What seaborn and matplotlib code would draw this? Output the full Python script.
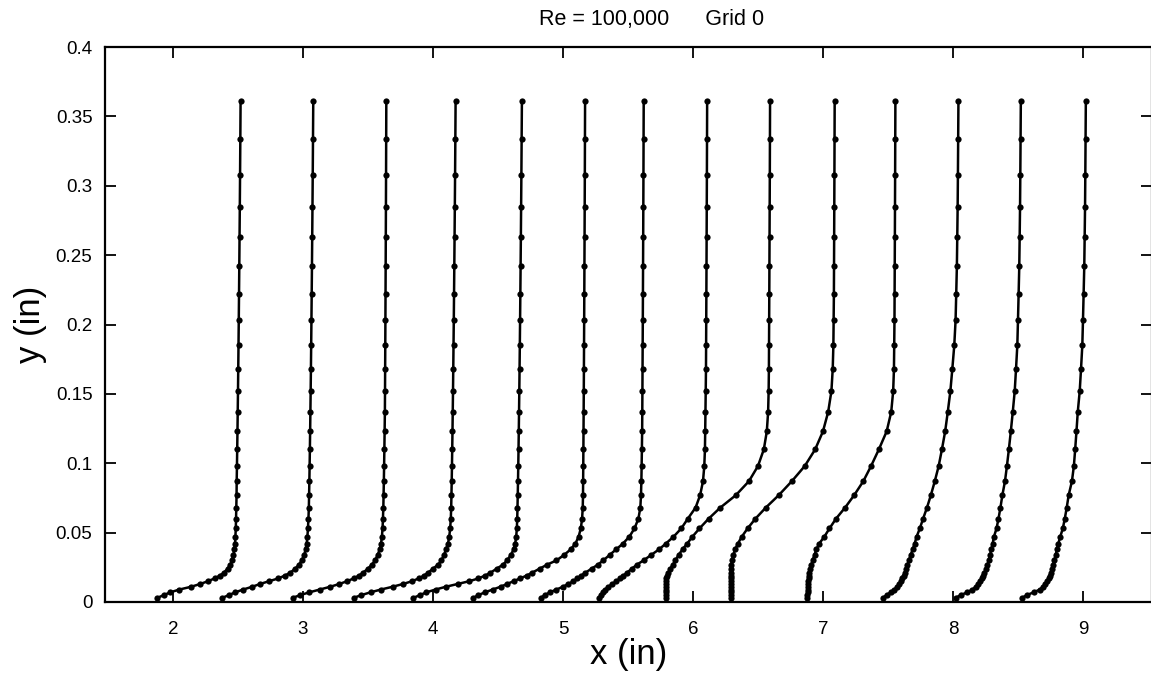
import pandas as pd
import matplotlib
matplotlib.use('Agg')
import matplotlib.pyplot as plt
import seaborn as sns
from matplotlib.ticker import FuncFormatter

# Shared wall-normal grid levels (in)
y_levels = [0.003, 0.005, 0.007, 0.009, 0.011, 0.013, 0.015, 0.017, 0.019, 0.021,
            0.024, 0.027, 0.030, 0.034, 0.038, 0.042, 0.047, 0.053, 0.060, 0.068,
            0.077, 0.087, 0.098, 0.110, 0.123, 0.137, 0.152, 0.168, 0.185, 0.203,
            0.222, 0.242, 0.263, 0.285, 0.308, 0.334, 0.361]

# x position of each profile point at the levels above
p1 = [1.88, 1.93, 1.98, 2.05, 2.14, 2.21, 2.27, 2.32, 2.36, 2.39,
      2.42, 2.44, 2.455, 2.465, 2.472, 2.477, 2.48, 2.483, 2.485, 2.487,
      2.489, 2.490, 2.492, 2.494, 2.496, 2.498, 2.500, 2.502, 2.504, 2.506,
      2.508, 2.510, 2.512, 2.514, 2.516, 2.518, 2.520]
p2 = [2.38, 2.43, 2.48, 2.54, 2.61, 2.67, 2.74, 2.81, 2.86, 2.90,
      2.94, 2.97, 2.99, 3.01, 3.02, 3.028, 3.034, 3.038, 3.042, 3.045,
      3.047, 3.049, 3.051, 3.053, 3.055, 3.057, 3.059, 3.061, 3.063, 3.065,
      3.067, 3.069, 3.071, 3.073, 3.075, 3.077, 3.079]
p3 = [2.92, 2.98, 3.05, 3.13, 3.21, 3.28, 3.34, 3.39, 3.43, 3.46,
      3.50, 3.53, 3.555, 3.575, 3.59, 3.60, 3.607, 3.612, 3.615, 3.618,
      3.620, 3.622, 3.624, 3.626, 3.628, 3.630, 3.631, 3.632, 3.633, 3.634,
      3.635, 3.636, 3.637, 3.638, 3.639, 3.640, 3.641]
p4 = [3.39, 3.45, 3.52, 3.60, 3.69, 3.77, 3.84, 3.89, 3.93, 3.96,
      4.00, 4.04, 4.065, 4.085, 4.10, 4.115, 4.125, 4.132, 4.137, 4.140,
      4.142, 4.144, 4.146, 4.148, 4.150, 4.152, 4.154, 4.156, 4.158, 4.160,
      4.162, 4.164, 4.166, 4.168, 4.170, 4.172, 4.174]
p5 = [3.85, 3.90, 3.95, 4.02, 4.10, 4.19, 4.28, 4.35, 4.40, 4.44,
      4.49, 4.54, 4.57, 4.60, 4.62, 4.632, 4.64, 4.645, 4.648, 4.650,
      4.652, 4.654, 4.656, 4.658, 4.660, 4.662, 4.664, 4.666, 4.668, 4.670,
      4.672, 4.674, 4.676, 4.678, 4.680, 4.682, 4.684]
p6 = [4.31, 4.35, 4.40, 4.46, 4.52, 4.57, 4.62, 4.67, 4.72, 4.76,
      4.82, 4.88, 4.95, 5.01, 5.06, 5.095, 5.12, 5.137, 5.147, 5.152,
      5.154, 5.155, 5.156, 5.157, 5.158, 5.159, 5.160, 5.161, 5.162, 5.163,
      5.164, 5.165, 5.166, 5.167, 5.168, 5.169, 5.170]
p7 = [4.83, 4.86, 4.90, 4.95, 5.00, 5.04, 5.08, 5.11, 5.14, 5.17,
      5.22, 5.27, 5.31, 5.36, 5.41, 5.46, 5.51, 5.55, 5.58, 5.595,
      5.600, 5.603, 5.605, 5.607, 5.609, 5.610, 5.611, 5.612, 5.613, 5.614,
      5.615, 5.616, 5.617, 5.618, 5.619, 5.620, 5.621]
p8 = [5.28, 5.29, 5.305, 5.325, 5.35, 5.38, 5.41, 5.44, 5.465, 5.49,
      5.53, 5.57, 5.62, 5.68, 5.74, 5.79, 5.85, 5.91, 5.96, 6.02,
      6.055, 6.077, 6.087, 6.092, 6.094, 6.096, 6.098, 6.100, 6.101, 6.102,
      6.103, 6.104, 6.105, 6.106, 6.107, 6.108, 6.109]
p9 = [5.79, 5.79, 5.79, 5.79, 5.79, 5.79, 5.792, 5.795, 5.80, 5.81,
      5.825, 5.845, 5.865, 5.89, 5.92, 5.955, 5.995, 6.05, 6.12, 6.21,
      6.33, 6.43, 6.50, 6.545, 6.568, 6.578, 6.582, 6.584, 6.585, 6.586,
      6.587, 6.588, 6.589, 6.590, 6.591, 6.592, 6.593]
p10 = [6.29, 6.29, 6.29, 6.29, 6.29, 6.29, 6.29, 6.29, 6.29, 6.29,
       6.292, 6.295, 6.30, 6.31, 6.325, 6.345, 6.375, 6.42, 6.48, 6.56,
       6.66, 6.76, 6.86, 6.94, 7.00, 7.04, 7.065, 7.075, 7.08, 7.082,
       7.084, 7.085, 7.086, 7.087, 7.088, 7.089, 7.090]
p11 = [6.88, 6.88, 6.881, 6.882, 6.883, 6.885, 6.887, 6.889, 6.892, 6.895,
       6.90, 6.91, 6.92, 6.935, 6.95, 6.97, 7.01, 7.05, 7.10, 7.17,
       7.24, 7.31, 7.37, 7.43, 7.49, 7.525, 7.54, 7.546, 7.548, 7.550,
       7.551, 7.552, 7.553, 7.554, 7.555, 7.556, 7.557]
p12 = [7.46, 7.49, 7.52, 7.55, 7.57, 7.585, 7.60, 7.61, 7.62, 7.63,
       7.64, 7.65, 7.66, 7.675, 7.69, 7.705, 7.72, 7.745, 7.77, 7.80,
       7.83, 7.86, 7.89, 7.915, 7.94, 7.96, 7.98, 7.995, 8.01, 8.02,
       8.025, 8.03, 8.033, 8.036, 8.038, 8.04, 8.042]
p13 = [8.02, 8.06, 8.11, 8.15, 8.175, 8.195, 8.21, 8.22, 8.23, 8.24,
       8.255, 8.265, 8.275, 8.285, 8.295, 8.305, 8.315, 8.335, 8.35, 8.365,
       8.38, 8.40, 8.415, 8.43, 8.445, 8.46, 8.475, 8.485, 8.495, 8.50,
       8.505, 8.51, 8.513, 8.516, 8.518, 8.52, 8.522]
p14 = [8.53, 8.57, 8.62, 8.67, 8.69, 8.71, 8.725, 8.735, 8.745, 8.752,
       8.762, 8.77, 8.78, 8.79, 8.80, 8.81, 8.825, 8.845, 8.86, 8.875,
       8.89, 8.915, 8.93, 8.94, 8.95, 8.96, 8.975, 8.985, 8.995, 9.00,
       9.005, 9.01, 9.013, 9.016, 9.018, 9.02, 9.022]

profiles = [p1, p2, p3, p4, p5, p6, p7, p8, p9, p10, p11, p12, p13, p14]

x_ticks = [2, 3, 4, 5, 6, 7, 8, 9]
y_ticks = [0, 0.05, 0.1, 0.15, 0.2, 0.25, 0.3, 0.35, 0.4]

# long-form table for seaborn
rows = []
for i, xs in enumerate(profiles):
    for xv, yv in zip(xs, y_levels):
        rows.append({'profile': i, 'x': xv, 'y': yv})
df = pd.DataFrame(rows)

sns.set_style('ticks')
plt.rcParams['font.family'] = ['Liberation Sans', 'DejaVu Sans']
plt.rcParams['text.color'] = 'black'
plt.rcParams['axes.labelcolor'] = 'black'

fig = plt.figure(figsize=(11.51, 6.77), dpi=100)
ax = fig.add_axes([105 / 1151, 75 / 677, 1047 / 1151, 555 / 677])

sns.lineplot(data=df, x='x', y='y', units='profile', estimator=None, sort=False,
             color='black', linewidth=1.8, marker='o', markersize=4.5,
             markeredgewidth=0, ax=ax, legend=False)

ax.set_xlim(1.477, 9.531)
ax.set_ylim(0, 0.4)
ax.set_xticks(x_ticks)
ax.set_yticks(y_ticks)
ax.yaxis.set_major_formatter(FuncFormatter(lambda v, p: f'{v:g}'))
ax.tick_params(direction='in', length=8, width=1.3, top=True, right=True,
               labelsize=13.5, colors='black')
ax.tick_params(axis='x', pad=14)
ax.tick_params(axis='y', pad=9)
for s in ax.spines.values():
    s.set_linewidth(1.6)
    s.set_color('black')

ax.set_xlabel('x (in)', fontsize=25, labelpad=0)
ax.set_ylabel('y (in)', fontsize=25, labelpad=6)
ax.set_title('Re = 100,000      Grid 0', fontsize=15.5, pad=16, x=0.522)

fig.savefig('out.png', dpi=100)
